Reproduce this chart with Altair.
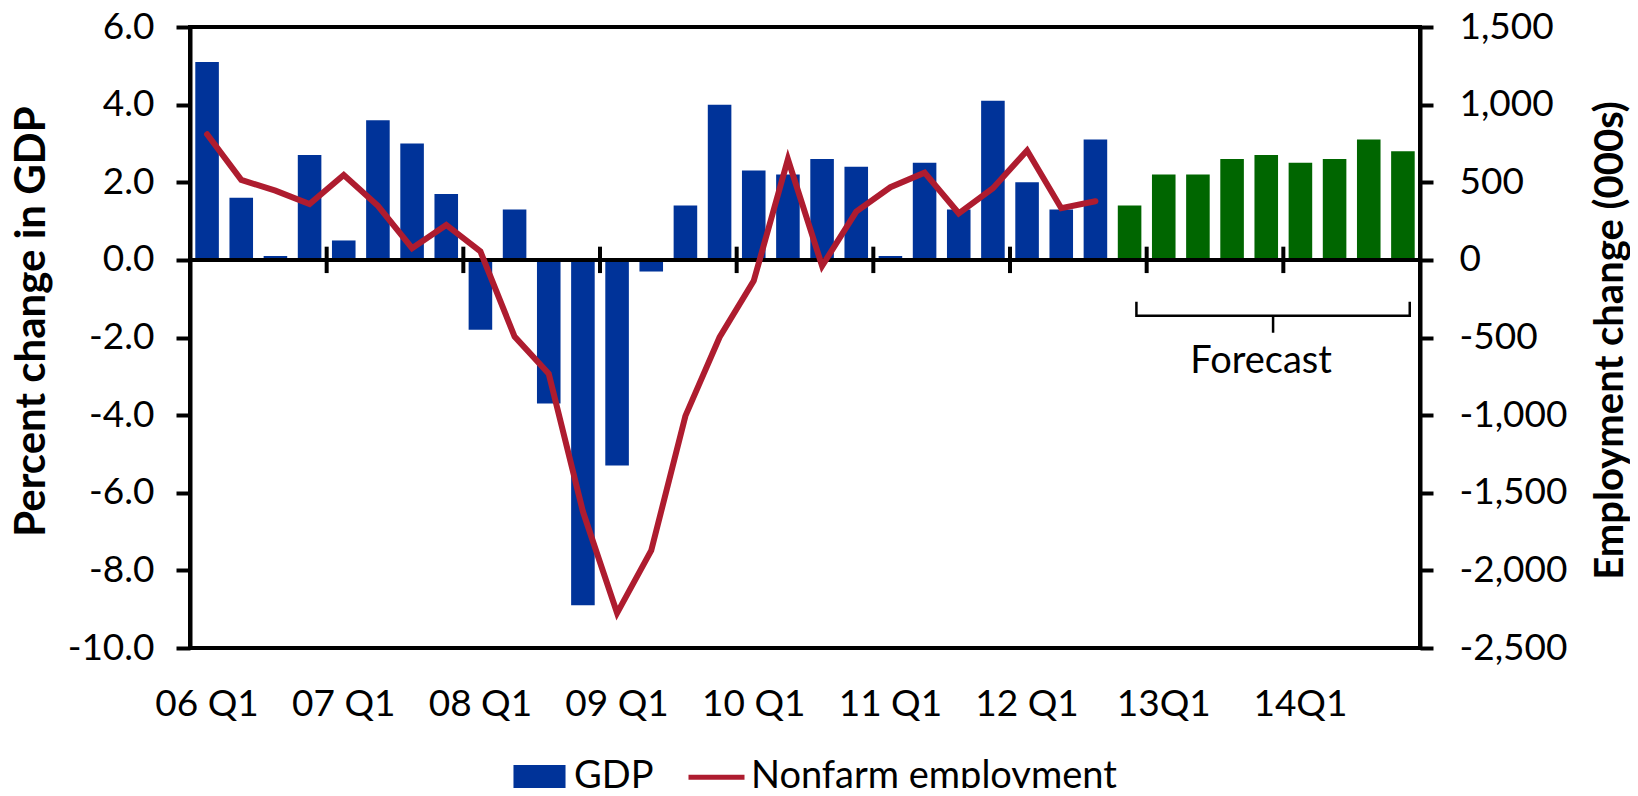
import altair as alt
import pandas as pd

# ---------------- data ----------------
quarters = [
    "06 Q1", "06 Q2", "06 Q3", "06 Q4",
    "07 Q1", "07 Q2", "07 Q3", "07 Q4",
    "08 Q1", "08 Q2", "08 Q3", "08 Q4",
    "09 Q1", "09 Q2", "09 Q3", "09 Q4",
    "10 Q1", "10 Q2", "10 Q3", "10 Q4",
    "11 Q1", "11 Q2", "11 Q3", "11 Q4",
    "12 Q1", "12 Q2", "12 Q3", "12 Q4",
    "13Q1", "13Q2", "13Q3", "13Q4",
    "14Q1", "14Q2", "14Q3", "14Q4",
]
gdp = [5.1, 1.6, 0.1, 2.7, 0.5, 3.6, 3.0, 1.7, -1.8, 1.3, -3.7, -8.9,
       -5.3, -0.3, 1.4, 4.0, 2.3, 2.2, 2.6, 2.4, 0.1, 2.5, 1.3, 4.1,
       2.0, 1.3, 3.1,
       1.4, 2.2, 2.2, 2.6, 2.7, 2.5, 2.6, 3.1, 2.8]
gdp_kind = ["GDP"] * 27 + ["Forecast"] * 9
employment = [809, 515, 446, 359, 547, 348, 75, 225, 54, -494, -734, -1621,
              -2275, -1872, -1005, -498, -135, 648, -39, 311, 468, 562, 300,
              462, 704, 333, 378]
label_quarters = ["06 Q1", "07 Q1", "08 Q1", "09 Q1", "10 Q1", "11 Q1",
                  "12 Q1", "13Q1", "14Q1"]
year_starts = label_quarters[1:]
left_ticks = [-10, -8, -6, -4, -2, 0, 2, 4, 6]
right_ticks = [-2500, -2000, -1500, -1000, -500, 0, 500, 1000, 1500]
legend_series = ["GDP", "Nonfarm employment"]
# forecast brace annotation (in GDP axis units)
brace_q = ["12 Q4", "12 Q4", "13Q4", "13Q4", "13Q4", "14Q4", "14Q4"]
brace_y = [-1.08, -1.44, -1.44, -1.88, -1.44, -1.44, -1.08]
note_q = ["13Q4"]
note_y = [-2.63]
note_text = ["Forecast"]

# ---------------- style ----------------
FONT = "Lato"
BLUE = "#003399"
GREEN = "#006600"
RED = "#AE1C2F"
LBL = 37


def xs():
    return alt.Scale(type="band", domain=quarters, paddingInner=0, paddingOuter=0)


def ls():
    return alt.Scale(domain=[-10, 6], nice=False, zero=False)


rscale = alt.Scale(domain=[-2500, 1500], nice=False, zero=False)

gdp_df = pd.DataFrame({"q": quarters, "gdp": gdp, "kind": gdp_kind})
emp_df = pd.DataFrame({"q": quarters[:len(employment)], "emp": employment})
tick_df = pd.DataFrame({"q": year_starts})
brace_df = pd.DataFrame({"q": brace_q, "y": brace_y, "i": list(range(len(brace_q)))})
note_df = pd.DataFrame({"q": note_q, "y": note_y, "t": note_text})
leg_df = pd.DataFrame({"series": legend_series})

bars = alt.Chart(gdp_df).mark_bar(width=alt.RelativeBandSize(0.69)).encode(
    x=alt.X("q:N", scale=xs(), sort=None, title=None,
            axis=alt.Axis(values=label_quarters, labelAngle=0, ticks=False,
                          tickSize=0, domain=False, labelPadding=38,
                          labelFontSize=LBL, labelFont=FONT, labelColor="black",
                          labelAlign="center", labelBaseline="top", grid=False,
                          labelOverlap=False)),
    y=alt.Y("gdp:Q", scale=ls(),
            axis=alt.Axis(values=left_ticks,
                          labelExpr="replace(format(datum.value, '.1f'), '\u2212', '-')",
                          tickSize=14, tickWidth=4, tickColor="black",
                          domainWidth=4, domainColor="black",
                          labelFontSize=LBL, labelFont=FONT, labelColor="black",
                          labelPadding=22, grid=False,
                          title="Percent change in GDP", titleFont=FONT,
                          titleFontSize=42, titleFontWeight="bold",
                          titleColor="black", titleAngle=270, titleX=-146,
                          titleY=294, titleAlign="center",
                          titleBaseline="alphabetic")),
    color=alt.Color("kind:N", scale=alt.Scale(domain=["GDP", "Forecast"],
                                               range=[BLUE, GREEN]), legend=None),
)

zero_rule = alt.Chart(gdp_df).mark_rule(color="black", strokeWidth=4).encode(
    y=alt.YDatum(0, scale=ls(), axis=None),
)

year_ticks = alt.Chart(tick_df).mark_rule(color="black", strokeWidth=4).encode(
    x=alt.X("q:N", scale=xs(), bandPosition=0, axis=None),
    y=alt.YDatum(-0.34, scale=ls(), axis=None),
    y2=alt.Y2Datum(0.34),
)

brace = alt.Chart(brace_df).mark_line(color="black", strokeWidth=2.5).encode(
    x=alt.X("q:N", scale=xs(), bandPosition=0.7, axis=None),
    y=alt.Y("y:Q", scale=ls(), axis=None),
    order=alt.Order("i:Q"),
)

note = alt.Chart(note_df).mark_text(font=FONT, fontSize=38, color="black",
                                    align="center", baseline="middle").encode(
    x=alt.X("q:N", scale=xs(), bandPosition=0.35, axis=None),
    y=alt.Y("y:Q", scale=ls(), axis=None),
    text="t:N",
)

line = alt.Chart(emp_df).mark_line(color=RED, strokeWidth=6, strokeCap="round").encode(
    x=alt.X("q:N", scale=xs(), bandPosition=0.5, axis=None),
    y=alt.Y("emp:Q", scale=rscale,
            axis=alt.Axis(orient="right", values=right_ticks,
                          labelExpr="replace(format(datum.value, ','), '\u2212', '-')",
                          tickSize=13, tickWidth=4, tickColor="black",
                          domainWidth=4, domainColor="black",
                          labelFontSize=LBL, labelFont=FONT, labelColor="black",
                          labelPadding=26, grid=False,
                          title="Employment change (000s)", titleFont=FONT,
                          titleFontSize=40, titleFontWeight="bold",
                          titleColor="black", titleAngle=270, titleX=202,
                          titleY=313, titleAlign="center",
                          titleBaseline="alphabetic")),
)

RECT = "M-0.84,-0.34L0.84,-0.34L0.84,0.34L-0.84,0.34Z"
DASH = "M-1,0L1,0"
leg = alt.Legend(orient="none", legendX=319, legendY=719, direction="horizontal",
                 title=None, labelFont=FONT, labelFontSize=38, labelColor="black",
                 labelLimit=0, symbolSize=3136, symbolStrokeWidth=5,
                 columnPadding=24, labelOffset=4, padding=0, symbolOpacity=1)
legend_layer = alt.Chart(leg_df).mark_point(filled=True, opacity=1, strokeWidth=5).encode(
    fill=alt.Fill("series:N", scale=alt.Scale(domain=legend_series, range=[BLUE, RED]), legend=leg),
    stroke=alt.Stroke("series:N", scale=alt.Scale(domain=legend_series, range=[BLUE, RED]), legend=leg),
    shape=alt.Shape("series:N", scale=alt.Scale(domain=legend_series, range=[RECT, DASH]), legend=leg),
).transform_filter("false")

chart = alt.layer(bars, zero_rule, year_ticks, brace, note, line, legend_layer).resolve_scale(
    x="independent", y="independent"
).properties(
    width=1230, height=621,
    autosize=alt.AutoSizeParams(type="none"),
    padding={"left": 182, "top": 19, "right": 210, "bottom": 140},
).configure(font=FONT).configure_view(stroke="black", strokeWidth=4)

chart.save("out.html", embed_options={"renderer": "svg", "actions": False})
